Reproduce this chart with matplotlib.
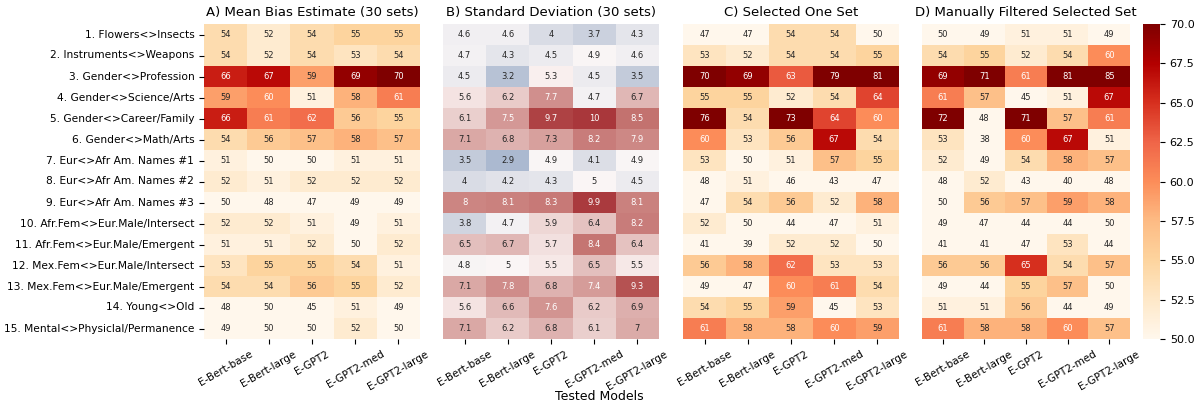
import numpy as np
import matplotlib
matplotlib.use("Agg")
import matplotlib.pyplot as plt
import seaborn as sns

tests = ["1. Flowers<>Insects", "2. Instruments<>Weapons", "3. Gender<>Profession",
         "4. Gender<>Science/Arts", "5. Gender<>Career/Family", "6. Gender<>Math/Arts",
         "7. Eur<>Afr Am. Names #1", "8. Eur<>Afr Am. Names #2", "9. Eur<>Afr Am. Names #3",
         "10. Afr.Fem<>Eur.Male/Intersect", "11. Afr.Fem<>Eur.Male/Emergent",
         "12. Mex.Fem<>Eur.Male/Intersect", "13. Mex.Fem<>Eur.Male/Emergent",
         "14. Young<>Old", "15. Mental<>Physiclal/Permanence"]
models = ["E-Bert-base", "E-Bert-large", "E-GPT2", "E-GPT2-med", "E-GPT2-large"]

mean_bias = [[54, 52, 54, 55, 55], [54, 52, 54, 53, 54], [66, 67, 59, 69, 70],
             [59, 60, 51, 58, 61], [66, 61, 62, 56, 55], [54, 56, 57, 58, 57],
             [51, 50, 50, 51, 51], [52, 51, 52, 52, 52], [50, 48, 47, 49, 49],
             [52, 52, 51, 49, 51], [51, 51, 52, 50, 52], [53, 55, 55, 54, 51],
             [54, 54, 56, 55, 52], [48, 50, 45, 51, 49], [49, 50, 50, 52, 50]]

std_dev = [[4.6, 4.6, 4, 3.7, 4.3], [4.7, 4.3, 4.5, 4.9, 4.6], [4.5, 3.2, 5.3, 4.5, 3.5],
           [5.6, 6.2, 7.7, 4.7, 6.7], [6.1, 7.5, 9.7, 10, 8.5], [7.1, 6.8, 7.3, 8.2, 7.9],
           [3.5, 2.9, 4.9, 4.1, 4.9], [4, 4.2, 4.3, 5, 4.5], [8, 8.1, 8.3, 9.9, 8.1],
           [3.8, 4.7, 5.9, 6.4, 8.2], [6.5, 6.7, 5.7, 8.4, 6.4], [4.8, 5, 5.5, 6.5, 5.5],
           [7.1, 7.8, 6.8, 7.4, 9.3], [5.6, 6.6, 7.6, 6.2, 6.9], [7.1, 6.2, 6.8, 6.1, 7]]

one_set = [[47, 47, 54, 54, 50], [53, 52, 54, 54, 55], [70, 69, 63, 79, 81],
           [55, 55, 52, 54, 64], [76, 54, 73, 64, 60], [60, 53, 56, 67, 54],
           [53, 50, 51, 57, 55], [48, 51, 46, 43, 47], [47, 54, 56, 52, 58],
           [52, 50, 44, 47, 51], [41, 39, 52, 52, 50], [56, 58, 62, 53, 53],
           [49, 47, 60, 61, 54], [54, 55, 59, 45, 53], [61, 58, 58, 60, 59]]

filtered_set = [[50, 49, 51, 51, 49], [54, 55, 52, 54, 60], [69, 71, 61, 81, 85],
                [61, 57, 45, 51, 67], [72, 48, 71, 57, 61], [53, 38, 60, 67, 51],
                [52, 49, 54, 58, 57], [48, 52, 43, 40, 48], [50, 56, 57, 59, 58],
                [49, 47, 44, 44, 50], [41, 41, 47, 53, 44], [56, 56, 65, 54, 57],
                [49, 44, 55, 57, 50], [51, 51, 56, 44, 49], [61, 58, 58, 60, 57]]

titles = ["A) Mean Bias Estimate (30 sets)", "B) Standard Deviation (30 sets)",
          "C) Selected One Set", "D) Manually Filtered Selected Set"]

fig = plt.figure(figsize=(11.99, 4.08), dpi=100)
W, H = 1199, 408
lefts = [204, 443, 683, 922]
widths = [216, 216, 216, 208]
bot = (H - 339) / H
hgt = 315 / H
axes = [fig.add_axes([l / W, bot, w / W, hgt]) for l, w in zip(lefts, widths)]
cax = fig.add_axes([1143 / W, bot, 17 / W, hgt])

annot_kws = {"size": 6}
datas = [mean_bias, std_dev, one_set, filtered_set]
for i, (ax, d) in enumerate(zip(axes, datas)):
    d = np.array(d)
    if i == 1:
        sns.heatmap(d, ax=ax, cmap="vlag", center=5, annot=True, fmt=".2g",
                    annot_kws=annot_kws, cbar=False)
    else:
        sns.heatmap(d, ax=ax, cmap="OrRd", vmin=50, vmax=70, annot=True, fmt=".2g",
                    annot_kws=annot_kws, cbar=(i == 3), cbar_ax=cax if i == 3 else None)
    ax.set_title(titles[i], fontsize=9.5)
    ax.set_xticks(np.arange(len(models)) + 0.5)
    ax.set_xticklabels(models, rotation=30, ha="center", fontsize=7.5)
    if i == 0:
        ax.set_yticks(np.arange(len(tests)) + 0.5)
        ax.set_yticklabels(tests, rotation=0, fontsize=7.7)
    else:
        ax.set_yticks([])

cax.set_yticks([50, 52.5, 55, 57.5, 60, 62.5, 65, 67.5, 70])
cax.set_yticklabels(["50.0", "52.5", "55.0", "57.5", "60.0", "62.5", "65.0", "67.5", "70.0"])
cax.tick_params(labelsize=8)

fig.text(0.5, 0.012, "Tested Models", ha="center", va="bottom", fontsize=9)

fig.savefig("out.png", dpi=100)
